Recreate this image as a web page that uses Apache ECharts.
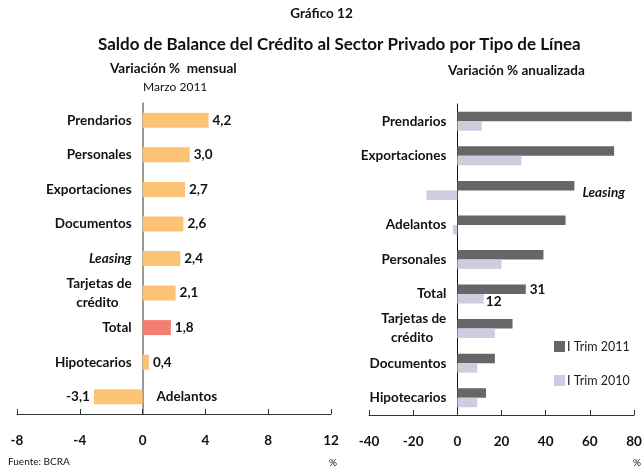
<!DOCTYPE html>
<html>
<head>
<meta charset="utf-8">
<script src="https://cdn.jsdelivr.net/npm/echarts@6/dist/echarts.min.js"></script>
<style>
  html, body { margin: 0; padding: 0; background: #fff; }
  #main { width: 643px; height: 469px; }
</style>
</head>
<body>
<div id="main"></div>
<script>
// left panel: monthly change, March 2011
const leftCats = ['Prendarios', 'Personales', 'Exportaciones', 'Documentos', 'Leasing',
  'Tarjetas de\ncrédito', 'Total', 'Hipotecarios', 'Adelantos'];
const leftVals = [4.2, 3.0, 2.7, 2.6, 2.4, 2.1, 1.8, 0.4, -3.1];

// right panel: annualized change
const rightCats = ['Prendarios', 'Exportaciones', 'Leasing', 'Adelantos', 'Personales',
  'Total', 'Tarjetas de\ncrédito', 'Documentos', 'Hipotecarios'];
const trim2011 = [79, 71, 53, 49, 39, 31, 25, 17, 13];
const trim2010 = [11, 29, -14, -2, 20, 12, 17, 9, 9];

const leftTicks = { min: -8, max: 12, interval: 4 };
const rightTicks = { min: -40, max: 80, interval: 20 };

const FONT = 'Lato';
const ORANGE = '#fcc375';
const SALMON = '#f47f70';
const DARK = '#666666';
const LIGHT = '#ccceE0';

const W = 643;
const gridL = { left: 17, right: 312, top: 103, bottom: 55 };
const gridR = { left: 369, right: 9, top: 104, bottom: 54 };

// distance from grid left edge to the zero line (category axis sits there)
function zeroOffset(g, t) {
  const w = W - g.left - g.right;
  return -(0 - t.min) / (t.max - t.min) * w;
}

const chart = echarts.init(document.getElementById('main'));

const fmt = v => v.toFixed(1).replace('.', ',');

function catLabels(cats, hide) {
  return cats.map(c => {
    if (c === hide) return { value: c, textStyle: { color: 'transparent' } };
    if (c === 'Leasing') return { value: c, textStyle: { fontStyle: 'italic' } };
    return c;
  });
}

// second line of two-line labels is centred under the first
function catFormatter(v) {
  const parts = v.split('\n');
  if (parts.length < 2) return v;
  return parts[0] + '\n{c|' + parts[1] + '}';
}

const leftData = leftVals.map((v, i) => {
  const item = { value: v, itemStyle: { color: leftCats[i] === 'Total' ? SALMON : ORANGE } };
  if (v < 0) item.label = { position: 'left' };
  return item;
});

// helper to write "Adelantos" right of the zero line
const adelantosTag = leftCats.map(c => (c === 'Adelantos' ? 0 : '-'));

const d2011 = trim2011.map((v, i) => {
  const c = rightCats[i];
  if (c === 'Total') return { value: v, label: { show: true, formatter: '{c}' } };
  if (c === 'Leasing') return { value: v, label: { show: true, formatter: 'Leasing', fontStyle: 'italic', distance: 8, offset: [0, 7] } };
  return v;
});
const d2010 = trim2010.map((v, i) => {
  if (rightCats[i] === 'Total') return { value: v, label: { show: true, formatter: '{c}', offset: [-2, 3] } };
  return v;
});

const axisText = { fontFamily: FONT, fontWeight: 'bold', fontSize: 13.5, color: '#111' };
const ttl = (size, weight) => ({ fontFamily: FONT, fontSize: size, fontWeight: weight, color: '#111' });
const catRich = { c: { ...axisText, lineHeight: 19, padding: [0, 13, 0, 0] } };

chart.setOption({
  animation: false,
  textStyle: { fontFamily: FONT },
  title: [
    { text: 'Gráfico 12', left: 'center', top: 7, padding: 0, textStyle: ttl(13.5, 'bold') },
    { text: 'Saldo de Balance del Crédito al Sector Privado por Tipo de Línea', left: 98, top: 36,
      padding: 0, textStyle: ttl(17, 'bold') },
    { text: 'Variación %  mensual', left: 110, top: 62, padding: 0, textStyle: ttl(13.5, 'bold') },
    { text: 'Marzo 2011', left: 143, top: 81, padding: 0, textStyle: ttl(12, 'normal') },
    { text: 'Variación % anualizada', left: 448, top: 64, padding: 0, textStyle: ttl(13.5, 'bold') },
    { text: 'Fuente: BCRA', left: 8, top: 457, padding: 0, textStyle: ttl(10, 'normal') },
    { text: '%', left: 329, top: 458, padding: 0, textStyle: ttl(10, 'normal') },
    { text: '%', left: 633, top: 458, padding: 0, textStyle: ttl(10, 'normal') }
  ],
  legend: {
    orient: 'vertical', left: 549, top: 335, itemGap: 21,
    itemWidth: 11, itemHeight: 11, icon: 'rect',
    textStyle: { fontFamily: FONT, fontSize: 12.5, color: '#222', padding: [0, 0, 0, -3] },
    data: ['I Trim 2011', 'I Trim 2010']
  },
  grid: [
    { ...gridL, outerBoundsMode: 'none' },
    { ...gridR, outerBoundsMode: 'none' }
  ],
  xAxis: [
    { type: 'value', gridIndex: 0, ...leftTicks,
      splitLine: { show: false },
      axisLine: { show: true, onZero: false, lineStyle: { color: '#333' } },
      axisTick: { show: true, inside: true, length: 5, lineStyle: { color: '#333' } },
      axisLabel: { ...axisText, margin: 20 } },
    { type: 'value', gridIndex: 1, ...rightTicks,
      splitLine: { show: false },
      axisLine: { show: true, onZero: false, lineStyle: { color: '#333' } },
      axisTick: { show: true, inside: true, length: 5, lineStyle: { color: '#333' } },
      axisLabel: { ...axisText, margin: 20 } }
  ],
  yAxis: [
    { type: 'category', gridIndex: 0, inverse: true, data: catLabels(leftCats, 'Adelantos'),
      offset: zeroOffset(gridL, leftTicks),
      axisLine: { show: true, onZero: false, lineStyle: { color: '#777', width: 1.5 } },
      axisTick: { show: false },
      axisLabel: { ...axisText, margin: 11, lineHeight: 19, formatter: catFormatter, rich: catRich } },
    { type: 'category', gridIndex: 1, inverse: true, data: catLabels(rightCats, 'Leasing'),
      offset: zeroOffset(gridR, rightTicks),
      axisLine: { show: true, onZero: false, lineStyle: { color: '#111' } },
      axisTick: { show: false },
      axisLabel: { ...axisText, margin: 11, lineHeight: 19, formatter: catFormatter, rich: catRich } }
  ],
  series: [
    { type: 'bar', xAxisIndex: 0, yAxisIndex: 0, data: leftData, barWidth: 15,
      label: { show: true, position: 'right', distance: 4, formatter: p => fmt(p.value),
        fontFamily: FONT, fontWeight: 'bold', fontSize: 13.5, color: '#111' } },
    { type: 'bar', xAxisIndex: 0, yAxisIndex: 0, data: adelantosTag, barWidth: 15, barGap: '-100%',
      itemStyle: { color: 'transparent' },
      label: { show: true, position: 'right', distance: 14, formatter: 'Adelantos',
        fontFamily: FONT, fontWeight: 'bold', fontSize: 13.5, color: '#111' } },
    { name: 'I Trim 2011', type: 'bar', xAxisIndex: 1, yAxisIndex: 1, data: d2011,
      barWidth: 9.5, barGap: '0%', itemStyle: { color: DARK },
      label: { show: false, position: 'right', distance: 4,
        fontFamily: FONT, fontWeight: 'bold', fontSize: 13.5, color: '#111' } },
    { name: 'I Trim 2010', type: 'bar', xAxisIndex: 1, yAxisIndex: 1, data: d2010,
      barWidth: 9.5, barGap: '0%', itemStyle: { color: LIGHT },
      label: { show: false, position: 'right', distance: 4,
        fontFamily: FONT, fontWeight: 'bold', fontSize: 13.5, color: '#111' } }
  ]
});
</script>
</body>
</html>
